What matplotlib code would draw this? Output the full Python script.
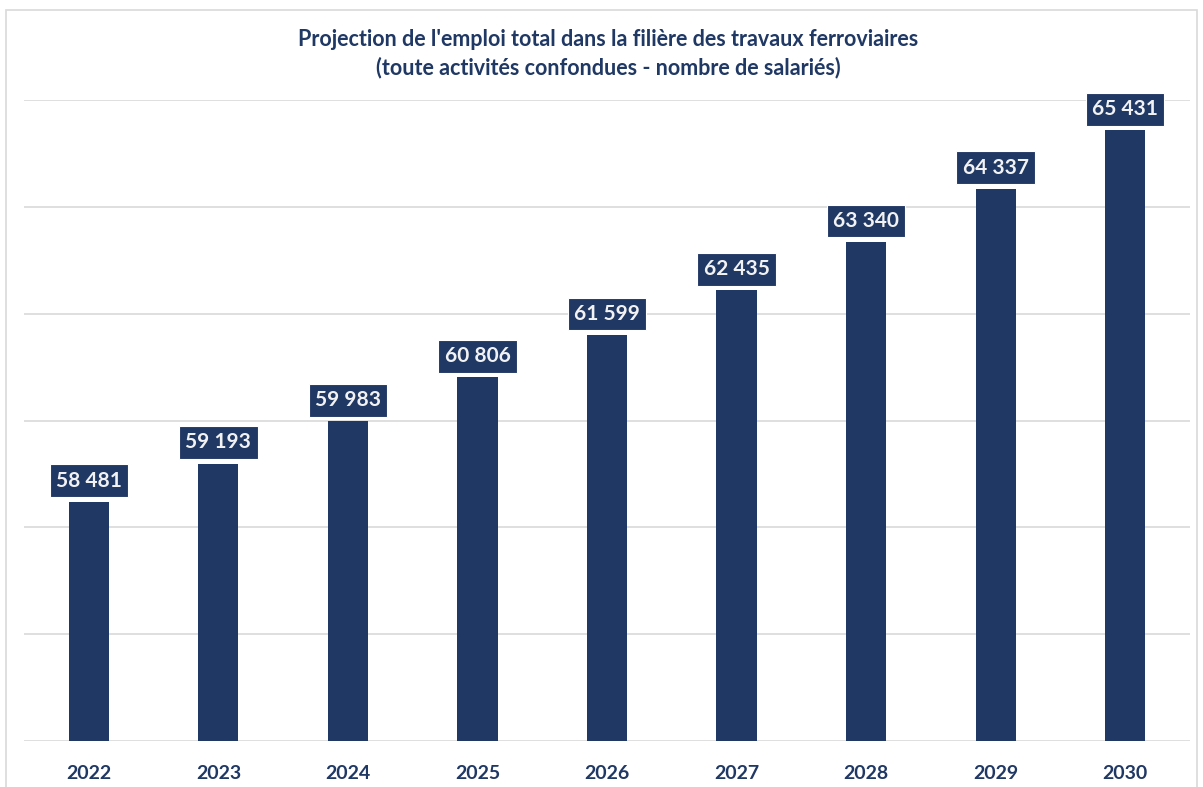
import matplotlib
matplotlib.use("Agg")
import matplotlib.pyplot as plt
from matplotlib.patches import Rectangle

years = ["2022", "2023", "2024", "2025", "2026", "2027", "2028", "2029", "2030"]
values = [58481, 59193, 59983, 60806, 61599, 62435, 63340, 64337, 65431]
title_lines = ["Projection de l'emploi total dans la filière des travaux ferroviaires",
               "(toute activités confondues - nombre de salariés)"]

NAVY = "#203864"
plt.rcParams['font.family'] = ['Lato', 'DejaVu Sans']

fig = plt.figure(figsize=(12.03, 7.87), dpi=100)
fig.patch.set_facecolor("white")
fig.patches.append(Rectangle((6/1203, -0.01), 1191/1203, 1 - 10/787 + 0.01,
                             transform=fig.transFigure, fill=False,
                             edgecolor="#d9d9d9", linewidth=1.2))

ax = fig.add_axes([24/1203, 1 - 741/787, (1190 - 24)/1203, (741 - 100)/787])
x = list(range(len(years)))
ax.bar(x, values, width=0.31, color=NAVY, zorder=3)
ax.set_ylim(54000, 66000)
ax.set_xlim(-0.5, len(years) - 0.5)
ax.set_yticks(range(54000, 66001, 2000))
ax.yaxis.grid(True, color="#d9d9d9", linewidth=1.2, zorder=0)
ax.tick_params(axis='y', left=False, labelleft=False)
ax.tick_params(axis='x', bottom=False, pad=14)
ax.set_xticks(x)
ax.set_xticklabels(years, fontsize=14, fontweight='bold', color=NAVY)
for s in ax.spines.values():
    s.set_visible(False)

for xi, v in zip(x, values):
    lab = f"{v:,}".replace(",", " ")
    ax.annotate(lab, (xi, v), xytext=(0, 8), textcoords="offset points",
                ha="center", va="bottom", fontsize=15, fontweight="bold",
                color="#f2f2f2", zorder=5,
                bbox=dict(boxstyle="square,pad=0.3", facecolor=NAVY,
                          edgecolor="white", linewidth=0.8))

fig.text(608/1203, 1 - 40/787, title_lines[0], ha="center", va="center",
         fontsize=15.5, fontweight="bold", color=NAVY)
fig.text(608/1203, 1 - 68/787, title_lines[1], ha="center", va="center",
         fontsize=15.5, fontweight="bold", color=NAVY)

fig.savefig("out.png", dpi=100)
